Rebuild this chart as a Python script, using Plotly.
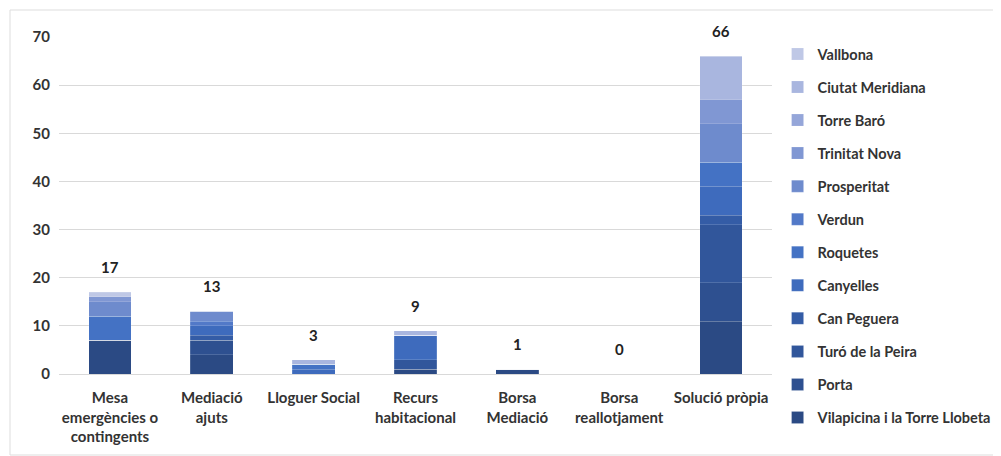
import plotly.graph_objects as go

categories = ["Mesa<br>emergències o<br>contingents", "Mediació<br>ajuts", "Lloguer Social",
              "Recurs<br>habitacional", "Borsa<br>Mediació", "Borsa<br>reallotjament", "Solució pròpia"]

# series from bottom of stack to top
series_names = ["Vilapicina i la Torre Llobeta", "Porta", "Turó de la Peira", "Can Peguera",
                "Canyelles", "Roquetes", "Verdun", "Prosperitat", "Trinitat Nova",
                "Torre Baró", "Ciutat Meridiana", "Vallbona"]

vilapicina = [7, 4, 0, 1, 1, 0, 11]
porta = [0, 3, 0, 0, 0, 0, 8]
turo = [0, 0, 0, 2, 0, 0, 12]
can_peguera = [0, 1, 0, 0, 0, 0, 2]
canyelles = [0, 2, 1, 5, 0, 0, 6]
roquetes = [5, 0, 1, 0, 0, 0, 5]
verdun = [0, 1, 0, 0, 0, 0, 0]
prosperitat = [3, 2, 0, 0, 0, 0, 8]
trinitat_nova = [1, 0, 0, 0, 0, 0, 5]
torre_baro = [0, 0, 0, 0, 0, 0, 0]
ciutat_meridiana = [0, 0, 1, 1, 0, 0, 9]
vallbona = [1, 0, 0, 0, 0, 0, 0]

series_values = [vilapicina, porta, turo, can_peguera, canyelles, roquetes, verdun,
                 prosperitat, trinitat_nova, torre_baro, ciutat_meridiana, vallbona]

colors = ["#2B4A84", "#2E5090", "#31569B", "#345CA6", "#3E6BBD", "#4472C4", "#5279C8",
          "#6E8BCD", "#8097D3", "#95A6D9", "#A9B6DF", "#BFC8E6"]

totals = [sum(v[i] for v in series_values) for i in range(len(categories))]

FONT = "Lato"
TXT = "#333333"

fig = go.Figure()
n = len(series_names)
for i, (name, vals, col) in enumerate(zip(series_names, series_values, colors)):
    fig.add_trace(go.Bar(
        x=categories, y=vals, name=name, legendgroup=name, legendrank=n - i,
        marker=dict(color=col, line=dict(color="rgba(255,255,255,0.25)", width=0.6)),
    ))

for c, t in zip(categories, totals):
    fig.add_annotation(x=c, y=t, text=f"<b>{t}</b>", showarrow=False,
                       yanchor="bottom", yshift=14,
                       font=dict(family=FONT, size=15, color="#222222"))

W, H = 993, 448
fig.update_layout(
    barmode="stack",
    bargap=0.58,
    width=W, height=H,
    margin=dict(l=51, r=229, t=29, b=82, autoexpand=False),
    paper_bgcolor="white", plot_bgcolor="white",
    font=dict(family=FONT, size=15, color=TXT),
    legend=dict(
        traceorder="grouped", tracegroupgap=11.2,
        xref="container", yref="container",
        x=0.775, xanchor="left", y=0.933, yanchor="top",
        font=dict(family=FONT, size=14.5, color=TXT, weight="bold"),
        itemwidth=30, maxheight=440,
    ),
    yaxis=dict(range=[0, 70], dtick=10, showgrid=True, gridcolor="#D9D9D9", gridwidth=1,
               zeroline=True, zerolinecolor="#D9D9D9", zerolinewidth=1,
               tickfont=dict(family=FONT, size=15, color=TXT, weight="bold"),
               ticklabelstandoff=8),
    xaxis=dict(showline=True, linecolor="#D9D9D9", ticklabelstandoff=10,
               tickfont=dict(family=FONT, size=15, color=TXT, weight="bold")),
    shapes=[dict(type="rect", xref="paper", yref="paper",
                 x0=-49 / 713, x1=(W - 51 - 1) / 713, y0=-(82 - 1) / 337, y1=1 + 27 / 337,
                 line=dict(color="#DDDDDD", width=1), fillcolor="rgba(0,0,0,0)", layer="below")],
)

fig.write_html("out.html")
